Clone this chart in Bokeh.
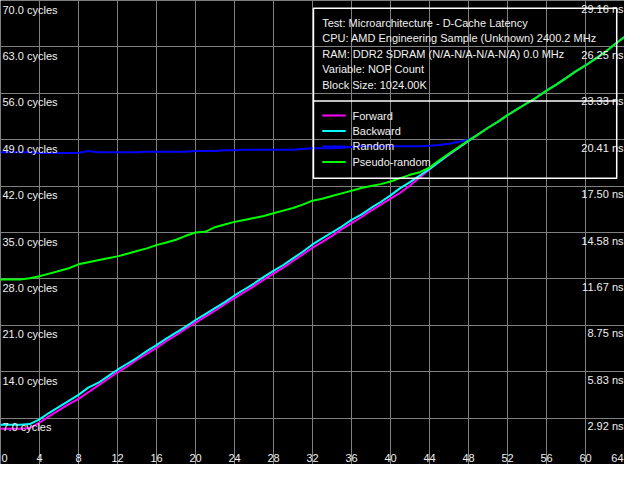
from bokeh.plotting import figure
from bokeh.models import Range1d, FixedTicker
from bokeh.core.properties import value
from bokeh.embed import file_html
from bokeh.resources import INLINE

# ---------------- data ----------------
nop = list(range(0, 65))

forward = [5.4, 5.4, 5.4, 5.5, 6.3, 7.3, 8.2, 9.1, 9.9, 10.9,
           11.9, 12.9, 13.9, 14.8, 15.8, 16.7, 17.6, 18.6, 19.5, 20.5,
           21.4, 22.3, 23.2, 24.2, 25.1, 26.0, 26.9, 27.9, 28.8, 29.7,
           30.7, 31.7, 32.7, 33.6, 34.5, 35.5, 36.4, 37.3, 38.3, 39.2,
           40.1, 41.0, 42.1, 43.3, 44.5, 45.7, 46.7, 47.8, 48.8, 49.8,
           50.8, 51.7, 52.7, 53.6, 54.5, 55.4, 56.4, 57.3, 58.3, 59.3,
           60.2, 61.2, 62.2, 63.4, 64.5]

backward = [6.0, 6.0, 6.0, 6.1, 6.8, 7.8, 8.7, 9.6, 10.5, 11.6,
            12.3, 13.3, 14.3, 15.2, 16.1, 17.1, 18.0, 19.0, 19.9, 20.8,
            21.8, 22.7, 23.6, 24.5, 25.5, 26.4, 27.3, 28.3, 29.2, 30.1,
            31.1, 32.1, 33.2, 34.1, 35.0, 35.9, 36.9, 37.7, 38.7, 39.6,
            40.6, 41.7, 42.6, 43.6, 44.6, 45.7, 46.8, 47.8, 48.8, 49.8,
            50.8, 51.7, 52.7, 53.6, 54.5, 55.4, 56.4, 57.3, 58.3, 59.3,
            60.2, 61.2, 62.2, 63.4, 64.5]

random_ = [47.1, 47.1, 47.1, 47.1, 47.0, 47.0, 47.0, 47.0, 47.0, 47.3,
           47.1, 47.1, 47.1, 47.1, 47.1, 47.2, 47.2, 47.2, 47.2, 47.2,
           47.3, 47.3, 47.3, 47.4, 47.4, 47.5, 47.5, 47.5, 47.5, 47.5,
           47.5, 47.6, 47.7, 47.7, 47.7, 47.8, 47.9, 48.0, 48.0, 48.0,
           48.0, 48.0, 48.0, 48.0, 48.1, 48.2, 48.4, 48.7, 49.0, 49.8,
           50.8, 51.7, 52.7, 53.6, 54.5, 55.4, 56.4, 57.3, 58.3, 59.3,
           60.2, 61.2, 62.2, 63.4, 64.5]

pseudo = [27.9, 27.9, 27.9, 28.1, 28.4, 28.8, 29.2, 29.6, 30.2, 30.5,
          30.8, 31.1, 31.4, 31.8, 32.2, 32.6, 33.1, 33.5, 33.9, 34.5,
          35.0, 35.1, 35.8, 36.2, 36.6, 36.9, 37.2, 37.5, 37.9, 38.3,
          38.7, 39.2, 39.8, 40.1, 40.5, 40.9, 41.3, 41.7, 42.0, 42.3,
          42.7, 43.2, 43.7, 44.1, 44.8, 45.9, 46.9, 47.9, 48.9, 49.8,
          50.8, 51.7, 52.7, 53.6, 54.5, 55.4, 56.4, 57.3, 58.3, 59.3,
          60.2, 61.2, 62.2, 63.4, 64.5]

series_names = ["Forward", "Backward", "Random", "Pseudo-random"]
series_colors = ["#FF00FF", "#00FFFF", "#0000FF", "#00FF00"]

x_ticks = list(range(0, 65, 4))
y_ticks = [70, 63, 56, 49, 42, 35, 28, 21, 14, 7]
y_left_labels = ["70.0 cycles", "63.0 cycles", "56.0 cycles", "49.0 cycles", "42.0 cycles",
                 "35.0 cycles", "28.0 cycles", "21.0 cycles", "14.0 cycles", "7.0 cycles"]
y_right_labels = ["29.16 ns", "26.25 ns", "23.33 ns", "20.41 ns", "17.50 ns",
                  "14.58 ns", "11.67 ns", "8.75 ns", "5.83 ns", "2.92 ns"]

info_lines = ["Test: Microarchitecture - D-Cache Latency",
              "CPU: AMD Engineering Sample (Unknown) 2400.2 MHz",
              "RAM: DDR2 SDRAM (N/A-N/A-N/A-N/A) 0.0 MHz",
              "Variable: NOP Count",
              "Block Size: 1024.00K"]

# ---------------- figure ----------------
W, H = 624, 464
XMAX, YMAX = 64, 70
p = figure(width=W, height=H, output_backend="svg", toolbar_location=None,
           x_range=Range1d(0, XMAX), y_range=Range1d(0, YMAX),
           x_axis_location=None, y_axis_location=None, min_border=0)
p.background_fill_color = "black"
p.border_fill_color = "black"
p.outline_line_color = None

p.xgrid.ticker = FixedTicker(ticks=x_ticks)
p.ygrid.ticker = FixedTicker(ticks=y_ticks + [0])
for g in (p.xgrid, p.ygrid):
    g.grid_line_color = "#808080"
    g.grid_line_width = 1

FONT = value("Liberation Sans")
FS = "11px"
TXT = "#F0F0F0"

def px_x(px):
    return px / 640 * XMAX

def px_y(py):
    return (480 - py) / 480 * YMAX

# data lines
for ys, c in zip([forward, backward, random_, pseudo], series_colors):
    p.line(nop, ys, line_color=c, line_width=2)

# left labels
p.text(x=[0] * len(y_ticks), y=y_ticks, text=y_left_labels, text_font=FONT,
       text_font_size=FS, text_color=TXT, text_baseline="top", text_align="left",
       x_offset=2, y_offset=3)
# right labels
p.text(x=[XMAX] * len(y_ticks), y=y_ticks, text=y_right_labels, text_font=FONT,
       text_font_size=FS, text_color=TXT, text_baseline="top", text_align="right",
       x_offset=-1, y_offset=2)

# x labels
xl = [str(t) for t in x_ticks]
p.text(x=[x_ticks[0]], y=[0], text=[xl[0]], text_font=FONT, text_font_size=FS,
       text_color=TXT, text_baseline="bottom", text_align="left", x_offset=1, y_offset=-3)
p.text(x=x_ticks[1:-1], y=[0] * (len(x_ticks) - 2), text=xl[1:-1], text_font=FONT,
       text_font_size=FS, text_color=TXT, text_baseline="bottom", text_align="center",
       y_offset=-3)
p.text(x=[x_ticks[-1]], y=[0], text=[xl[-1]], text_font=FONT, text_font_size=FS,
       text_color=TXT, text_baseline="bottom", text_align="right", x_offset=-1, y_offset=-3)

# info / legend box
bl, br, bt, bb, bd = px_x(321), px_x(632), px_y(8), px_y(184), px_y(104)
p.quad(left=[bl], right=[br], top=[bt], bottom=[bb], fill_alpha=0,
       line_color="white", line_width=1.5)
p.segment(x0=[bl], x1=[br], y0=[bd], y1=[bd], line_color="white", line_width=1.5)

info_y = [px_y(23 + 16 * i) for i in range(len(info_lines))]
p.text(x=[px_x(330)] * len(info_lines), y=info_y, text=info_lines, text_font=FONT,
       text_font_size=FS, text_color=TXT, text_baseline="middle", text_align="left")

leg_y = [px_y(119 + 16 * i) for i in range(len(series_names))]
for yy, c in zip(leg_y, series_colors):
    p.segment(x0=[px_x(330)], x1=[px_x(354)], y0=[yy], y1=[yy], line_color=c, line_width=2)
p.text(x=[px_x(361)] * len(series_names), y=leg_y, text=series_names, text_font=FONT,
       text_font_size=FS, text_color=TXT, text_baseline="middle", text_align="left")

open("out.html", "w").write(file_html(p, INLINE))
